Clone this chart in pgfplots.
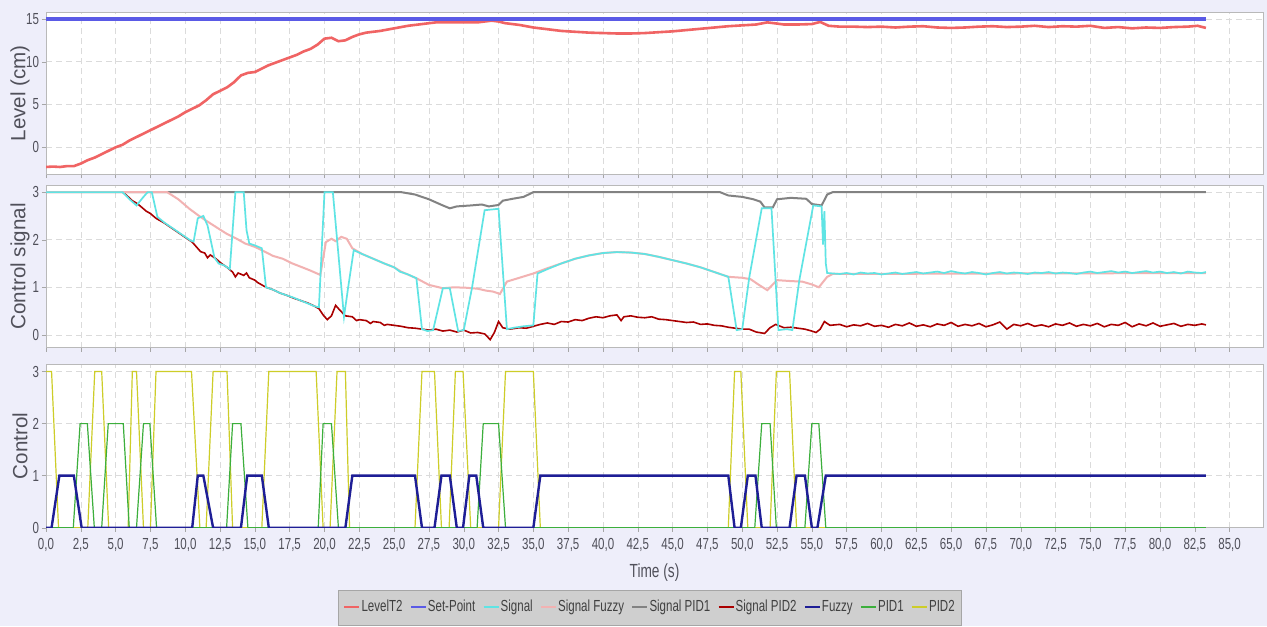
\documentclass[border=0pt]{standalone}
\usepackage{fontspec}
\setmainfont{Liberation Sans}[FakeStretch=0.72]
\newfontfamily\plainfont{Liberation Sans}
\usepackage{pgfplots}
\pgfplotsset{compat=1.18}
\definecolor{bgc}{RGB}{238,238,250}
\definecolor{levelc}{RGB}{240,100,100}
\definecolor{spc}{RGB}{90,90,230}
\definecolor{sigc}{RGB}{95,228,228}
\definecolor{sfuzc}{RGB}{242,178,178}
\definecolor{spid1c}{RGB}{130,130,130}
\definecolor{spid2c}{RGB}{170,0,0}
\definecolor{fuzc}{RGB}{30,30,150}
\definecolor{pid1c}{RGB}{60,175,60}
\definecolor{pid2c}{RGB}{205,205,40}
\definecolor{txtc}{RGB}{80,80,90}
\pgfplotsset{
  common/.style={
    scale only axis, width=608.5pt, xmin=0, xmax=87.4,
    axis background/.style={fill=white},
    axis line style={gray!55},
    tick style={gray!70}, tick align=outside, major tick length=2pt, tick pos=left,
    grid=major, major grid style={densely dashed, gray!28, line width=0.3pt},
    xtick={0,2.5,...,85},
    /pgf/number format/assume math mode=true,
    tick label style={font=\fontsize{8}{9}\selectfont, text=txtc},
    ylabel style={font=\plainfont\fontsize{10.3}{12}\selectfont, text=txtc, at={(axis description cs:-0.0214,0.5)}, anchor=center},
    yticklabel style={xshift=2pt},
  }
}
\begin{document}
\begin{tikzpicture}
\fill[bgc] (0,0) rectangle (633.5pt,-313pt);
% ---------------- top panel
\begin{axis}[common, at={(23pt,-6.35pt)}, anchor=north west, height=80.65pt,
  ymin=-3.12, ymax=15.73, ytick={0,5,10,15}, xticklabels={},
  ylabel={Level (cm)}]
\addplot[levelc, line width=1.3pt] coordinates {
(0,-2.3) (0.5,-2.25) (1,-2.3) (1.5,-2.2) (2,-2.2) (2.5,-1.9) (3,-1.5) (3.5,-1.2) (4,-0.8) (4.5,-0.4) (5,0) (5.5,0.3) (6,0.8) (6.5,1.2) (7,1.6) (7.5,2.0) (8,2.4) (8.5,2.8) (9,3.2) (9.5,3.6) (10,4.1) (10.5,4.5) (11,4.9) (11.5,5.5) (12,6.2) (12.5,6.6) (13,7.0) (13.5,7.6) (14,8.4) (14.5,8.7) (15,8.8) (15.5,9.2) (16,9.6) (16.5,9.9) (17,10.2) (17.5,10.5) (18,10.8) (18.5,11.2) (19,11.5) (19.5,12.0) (20,12.7) (20.5,12.8) (21,12.4) (21.5,12.5) (22,12.9) (22.5,13.2) (23,13.4) (24,13.6) (25,13.9) (26,14.2) (27,14.4) (28,14.6) (29,14.6) (30,14.6) (31,14.6) (32,14.8) (32.5,14.7) (33,14.5) (34,14.3) (35,14.0) (36,13.8) (37,13.6) (38,13.5) (39,13.4) (40,13.35) (41,13.3) (42,13.3) (43,13.35) (44,13.45) (45,13.55) (46,13.7) (47,13.85) (48,14.0) (49,14.15) (50,14.25) (51,14.35) (51.8,14.6) (52.3,14.5) (53,14.35) (54,14.35) (55,14.4) (55.6,14.65) (56.2,14.2) (57,14.1) (58,14.1) (59,14.05) (60,14.1) (61,14.0) (62,14.1) (63,14.15) (64,14.0) (65,13.95) (66,14.0) (67,14.1) (68,14.15) (69,14.05) (70,14.1) (71,14.2) (72,14.05) (73,14.15) (74,14.1) (75,14.2) (76,13.95) (77,14.05) (78,13.9) (79,14.0) (80,13.95) (81,14.05) (82,14.1) (82.7,14.2) (83.3,13.95)};
\addplot[spc, line width=1.6pt] coordinates {(0,15) (83.3,15)};
\end{axis}
% ---------------- middle panel
\begin{axis}[common, at={(23pt,-92.5pt)}, anchor=north west, height=81.35pt,
  ymin=-0.27, ymax=3.15, ytick={0,1,2,3}, xticklabels={},
  ylabel={Control signal}]
\addplot[spid1c, line width=1pt] coordinates {
(0,3) (25.5,3) (26.5,2.95) (27.5,2.85) (28.5,2.72) (29,2.66) (29.5,2.7) (30.5,2.72) (31.3,2.74) (31.8,2.7) (32.5,2.73) (32.8,2.82) (33.5,2.86) (34.3,2.9) (35,3.0) (48.4,3) (49,2.93) (50,2.9) (50.8,2.85) (51.3,2.8) (51.6,2.68) (52.2,2.68) (52.5,2.85) (53.5,2.88) (54.6,2.86) (55,2.75) (55.7,2.72) (56.1,2.95) (56.5,3.0) (83.3,3)};
\addplot[spid2c, line width=0.8pt] coordinates {
(0,3) (5.5,3) (5.8,2.93) (6.2,2.82) (6.5,2.77) (6.8,2.7) (7.2,2.6) (7.5,2.55) (7.9,2.45) (8.5,2.35) (9,2.25) (9.5,2.15) (10,2.05) (10.5,1.95) (10.8,1.85) (11.1,1.75) (11.4,1.72) (11.6,1.62) (11.8,1.68) (12.2,1.6) (12.6,1.5) (13,1.42) (13.4,1.32) (13.6,1.22) (13.8,1.3) (14.2,1.25) (14.4,1.3) (14.6,1.2) (15,1.15) (15.2,1.1) (15.5,1.05) (15.8,1.0) (16.3,0.95) (16.8,0.88) (17.3,0.83) (17.8,0.77) (18.3,0.72) (18.8,0.67) (19.3,0.6) (19.6,0.55) (19.9,0.42) (20.2,0.32) (20.5,0.4) (20.8,0.62) (21.1,0.52) (21.5,0.4) (22,0.38) (22.3,0.3) (22.5,0.32) (23,0.3) (23.3,0.24) (23.5,0.28) (24,0.26) (24.3,0.2) (24.5,0.22) (25,0.2) (25.5,0.18) (26,0.15) (26.5,0.14) (27,0.12) (27.5,0.1) (28,0.12) (28.5,0.08) (29,0.1) (29.5,0.06) (30,0.1) (30.5,0.04) (31,0.05) (31.5,0.02) (31.9,-0.1) (32.2,0.05) (32.5,0.28) (32.8,0.15) (33.3,0.12) (34,0.15) (34.5,0.14) (35,0.18) (35.5,0.22) (36,0.25) (36.5,0.22) (37,0.28) (37.5,0.27) (38,0.32) (38.5,0.3) (39,0.35) (39.5,0.38) (40,0.36) (40.5,0.4) (41,0.42) (41.3,0.3) (41.5,0.38) (42,0.4) (42.5,0.37) (43,0.36) (43.5,0.38) (44,0.33) (44.5,0.32) (45,0.3) (45.5,0.28) (46,0.26) (46.5,0.27) (47,0.22) (47.5,0.23) (48,0.2) (48.5,0.19) (49,0.16) (49.5,0.14) (50,0.12) (50.5,0.12) (51,0.06) (51.6,0.03) (52,0.15) (52.4,0.22) (53,0.15) (53.5,0.16) (54,0.14) (54.5,0.12) (55,0.08) (55.3,0.05) (55.6,0.12) (55.9,0.28) (56.3,0.2)
(57,0.22) (57.5,0.17) (58,0.21) (58.5,0.19) (59,0.24) (59.5,0.18) (60,0.2) (60.5,0.16) (61,0.22) (61.5,0.19) (62,0.25) (62.5,0.18) (63,0.21) (63.5,0.17) (64,0.23) (64.5,0.2) (65,0.26) (65.5,0.18) (66,0.22) (66.5,0.19) (67,0.24) (67.5,0.17) (68,0.21) (68.5,0.27) (69,0.12) (69.5,0.22) (70,0.19) (70.5,0.24) (71,0.18) (71.5,0.21) (72,0.17) (72.5,0.23) (73,0.2) (73.5,0.25) (74,0.18) (74.5,0.22) (75,0.19) (75.5,0.24) (76,0.17) (76.5,0.22) (77,0.2) (77.5,0.26) (78,0.17) (78.5,0.23) (79,0.19) (79.5,0.25) (80,0.18) (80.5,0.21) (81,0.24) (81.5,0.18) (82,0.22) (82.5,0.2) (83,0.23) (83.3,0.21)};
\addplot[sfuzc, line width=1pt] coordinates {
(0,3) (8.7,3) (9.5,2.85) (10.3,2.65) (10.9,2.52) (11.5,2.4) (12.3,2.25) (13,2.12) (13.7,2.02) (14.3,1.92) (15,1.85) (15.7,1.75) (16.3,1.66) (17,1.6) (17.7,1.5) (18.4,1.42) (19,1.35) (19.7,1.26) (20.1,1.95) (20.5,2.02) (20.8,1.97) (21.2,2.06) (21.6,2.02) (22,1.82) (22.7,1.7) (23.5,1.6) (24.3,1.5) (25,1.42) (25.5,1.33) (26.6,1.19) (27.5,1.05) (28.5,0.98) (29.3,1.0) (30.2,0.99) (31,0.97) (31.6,0.93) (32.1,0.91) (32.6,0.86) (33.1,1.12) (34,1.2) (35,1.29) (36,1.4) (37,1.5) (38,1.6) (39,1.67) (40,1.72) (41,1.74) (42,1.73) (43,1.7) (44,1.64) (45,1.57) (46,1.5) (47,1.42) (48,1.32) (49,1.22) (50,1.2) (50.6,1.17) (51.2,1.05) (51.8,0.94) (52.5,1.15) (53.5,1.13) (54.3,1.12) (55,1.06) (55.5,1.0) (56.1,1.22) (56.5,1.28) (83.3,1.3)};
\addplot[sigc, line width=0.85pt] coordinates {
(0,3) (5.5,3) (6.0,2.85) (6.5,2.72) (7.0,2.9) (7.3,3.0) (7.6,3.0) (8.0,2.48) (8.5,2.36) (9,2.26) (9.5,2.16) (10,2.06) (10.4,1.98) (10.6,1.96) (10.9,2.45) (11.3,2.5) (11.6,2.3) (12.1,1.62) (12.4,1.5) (12.8,1.46) (13.2,1.38) (13.6,3.0) (14.2,3.0) (14.4,2.2) (14.6,1.92) (15,1.88) (15.5,1.82) (15.8,1.0) (16.3,0.95) (16.8,0.88) (17.3,0.83) (17.8,0.78) (18.3,0.72) (18.8,0.66) (19.3,0.6) (19.6,0.58) (20.0,3.0) (20.6,3.0) (21.4,0.38) (21.7,1.0) (22.1,1.78) (22.7,1.7) (23.5,1.6) (24.3,1.5) (25,1.42) (25.4,1.33) (26,1.27) (26.6,1.19) (27.0,0.12) (27.4,0.08) (27.8,0.1) (28.5,0.98) (29.0,0.98) (29.6,0.08) (30.0,0.1) (30.6,1.0) (31.5,2.62) (32.5,2.65) (33.1,0.12) (33.6,0.15) (34.3,0.18) (35,0.2) (35.3,1.29) (36,1.38) (37,1.5) (38,1.6) (39,1.67) (40,1.72) (41,1.74) (42,1.73) (43,1.7) (44,1.64) (45,1.57) (46,1.5) (47,1.42) (48,1.32) (49,1.22) (49.6,0.1) (50,0.12) (50.5,1.2) (51.4,2.66) (52.1,2.66) (52.6,0.1) (53.2,0.12) (53.6,0.1) (54.1,1.15) (55.1,2.72) (55.7,2.7) (55.8,1.9) (55.9,2.6) (56.0,1.5) (56.1,1.3)
(57,1.28) (57.5,1.3) (58,1.27) (58.5,1.31) (59,1.29) (59.5,1.3) (60,1.27) (60.5,1.29) (61,1.31) (61.5,1.28) (62,1.3) (62.5,1.32) (63,1.29) (63.5,1.31) (64,1.33) (64.5,1.3) (65,1.34) (65.5,1.31) (66,1.29) (66.5,1.32) (67,1.3) (67.5,1.27) (68,1.3) (68.5,1.32) (69,1.29) (69.5,1.31) (70,1.3) (70.5,1.28) (71,1.31) (71.5,1.3) (72,1.32) (72.5,1.29) (73,1.31) (73.5,1.3) (74,1.28) (74.5,1.31) (75,1.33) (75.5,1.3) (76,1.32) (76.5,1.34) (77,1.31) (77.5,1.33) (78,1.3) (78.5,1.32) (79,1.34) (79.5,1.31) (80,1.33) (80.5,1.3) (81,1.32) (81.5,1.29) (82,1.33) (82.5,1.31) (83,1.3) (83.3,1.32)};
\end{axis}
% ---------------- bottom panel
\begin{axis}[common, at={(23pt,-182.15pt)}, anchor=north west, height=81.7pt,
  ymin=0, ymax=3.14, ytick={0,1,2,3},
  ylabel={Control},
  xticklabel style={/pgf/number format/.cd, fixed, fixed zerofill, precision=1, use comma},
  xlabel={Time (s)},
  xlabel style={font=\fontsize{9.5}{11}\selectfont, text=txtc, at={(axis description cs:0.5,-0.273)}, anchor=center},
  legend columns=9,
  legend style={at={(0.496,-0.488)}, anchor=center, fill=gray!38, draw=gray!70,
    font=\fontsize{8}{9}\selectfont, text=black!75, inner xsep=2.5pt, inner ysep=4.5pt,
    nodes={inner sep=0.6pt},
    /tikz/every even column/.append style={column sep=3pt}},
  legend image code/.code={\draw[#1, line width=1pt] (0pt,0pt) -- (7.5pt,0pt);},
  ]
\addlegendimage{levelc}\addlegendentry{LevelT2}
\addlegendimage{spc}\addlegendentry{Set-Point}
\addlegendimage{sigc}\addlegendentry{Signal}
\addlegendimage{sfuzc}\addlegendentry{Signal Fuzzy}
\addlegendimage{spid1c}\addlegendentry{Signal PID1}
\addlegendimage{spid2c}\addlegendentry{Signal PID2}
\addlegendimage{fuzc}\addlegendentry{Fuzzy}
\addlegendimage{pid1c}\addlegendentry{PID1}
\addlegendimage{pid2c}\addlegendentry{PID2}
\addplot[pid2c, line width=0.6pt, forget plot] coordinates {
(0,3) (0.4,3) (0.9,0) (3.0,0) (3.5,3) (4.0,3) (4.5,0) (5.9,0) (6.2,3) (6.5,3) (7.0,0) (7.5,0) (7.9,3) (10.45,3) (11.05,0) (11.5,0) (12.0,3) (13.0,3) (13.4,0) (15.5,0) (16.0,3) (19.4,3) (19.9,0) (20.4,0) (20.9,3) (21.5,3) (21.8,0) (26.5,0) (27.0,3) (27.9,3) (28.4,0) (28.95,0) (29.4,3) (29.95,3) (30.5,0) (32.5,0) (33.0,3) (35.0,3) (35.5,0) (49.0,0) (49.45,3) (49.9,3) (50.4,0) (52.0,0) (52.45,3) (53.4,3) (53.9,0) (83.3,0)};
\addplot[pid1c, line width=0.6pt, forget plot] coordinates {
(0,0) (1.96,0) (2.45,2) (2.97,2) (3.47,0) (4.0,0) (4.47,2) (5.55,2) (5.98,0) (6.5,0) (7.0,2) (7.46,2) (7.94,0) (12.97,0) (13.4,2) (14.0,2) (14.5,0) (19.55,0) (19.9,2) (20.5,2) (21.0,0) (30.96,0) (31.4,2) (32.5,2) (33.0,0) (50.9,0) (51.4,2) (52.0,2) (52.45,0) (54.5,0) (55.0,2) (55.5,2) (56.0,0) (83.3,0)};
\addplot[fuzc, line width=1.2pt, forget plot] coordinates {
(0,0) (0.4,0) (0.96,1) (2.0,1) (2.56,0) (10.5,0) (10.9,1) (11.3,1) (12.0,0) (14.0,0) (14.45,1) (15.5,1) (16.0,0) (21.5,0) (22.0,1) (26.5,1) (27.0,0) (27.9,0) (28.4,1) (29.0,1) (29.5,0) (29.95,0) (30.4,1) (30.9,1) (31.4,0) (35.0,0) (35.5,1) (49.0,1) (49.45,0) (49.9,0) (50.4,1) (50.95,1) (51.4,0) (53.4,0) (53.9,1) (54.5,1) (55.0,0) (55.4,0) (56.0,1) (83.3,1)};
\end{axis}
\end{tikzpicture}
\end{document}
